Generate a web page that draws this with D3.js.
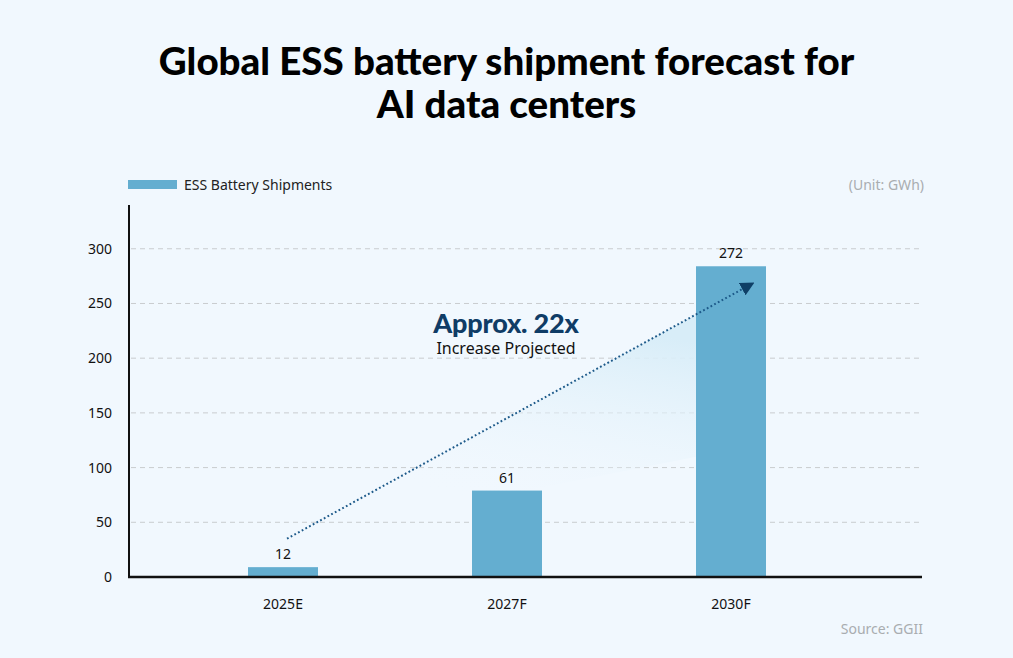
<!DOCTYPE html>
<html>
<head>
<meta charset="utf-8">
<script src="https://cdn.jsdelivr.net/npm/d3@7"></script>
<style>
  html, body { margin: 0; padding: 0; background: #f1f8fe; }
  svg { display: block; font-family: "Noto Sans", "Open Sans", sans-serif; }
</style>
</head>
<body>
<svg id="chart" width="1013" height="658"></svg>
<script>
// data
const categories = ["2025E", "2027F", "2030F"];
const valueLabels = [12, 61, 272];
// bars are drawn taller/shorter than their labels in the original
const barHeights = [9, 79, 284];
const yTicks = [0, 50, 100, 150, 200, 250, 300];
// arrow: [category, value] at start and end
const arrowFrom = ["2025E", 35];
const arrowTo = ["2030F", 268];

const svg = d3.select("#chart"),
  width = +svg.attr("width"),
  height = +svg.attr("height");

const axisLeft = 129, axisRight = 922, baseY = 577;

const y = d3.scaleLinear().domain([0, 340]).range([baseY, 205]);
const x = d3.scaleBand().domain(categories).range([171, 843]).paddingInner(0.6875).paddingOuter(0.34375);

// title
const title = svg.append("text")
  .attr("x", width / 2)
  .attr("text-anchor", "middle")
  .style("font-family", "Lato, Inter, sans-serif")
  .style("font-weight", 900)
  .style("font-size", "38.5px")
  .attr("fill", "#000");
title.append("tspan").attr("x", width / 2).attr("y", 75).text("Global ESS battery shipment forecast for");
title.append("tspan").attr("x", width / 2).attr("y", 118).text("AI data centers");

// legend
svg.append("rect")
  .attr("x", 128).attr("y", 180)
  .attr("width", 49).attr("height", 9)
  .attr("fill", "#64aed0");
svg.append("text")
  .attr("x", 184).attr("y", 190)
  .style("font-size", "14px")
  .attr("fill", "#222")
  .text("ESS Battery Shipments");

svg.append("text")
  .attr("x", 924).attr("y", 190)
  .attr("text-anchor", "end")
  .style("font-size", "14px")
  .attr("fill", "#a9adb0")
  .text("(Unit: GWh)");

// grid
svg.append("g")
  .selectAll("line")
  .data(yTicks.filter((d) => d > 0))
  .enter()
  .append("line")
  .attr("x1", axisLeft + 2).attr("x2", axisRight)
  .attr("y1", (d) => y(d)).attr("y2", (d) => y(d))
  .attr("stroke", "#c9cccf")
  .attr("stroke-width", 1)
  .attr("stroke-dasharray", "5,4");

// y axis
const yAxis = svg.append("g")
  .attr("transform", "translate(" + axisLeft + ",0)")
  .call(d3.axisLeft(y).tickValues(yTicks).tickSize(0).tickPadding(17));
yAxis.select(".domain").remove();
yAxis.selectAll("text")
  .style("font-family", "\"Noto Sans\", sans-serif")
  .style("font-size", "14px")
  .attr("fill", "#111");
svg.append("line")
  .attr("x1", axisLeft).attr("x2", axisLeft)
  .attr("y1", y.range()[1]).attr("y2", baseY + 1)
  .attr("stroke", "#111").attr("stroke-width", 2);

// shaded wedge under the arrow
const defs = svg.append("defs");
const grad = defs.append("linearGradient")
  .attr("id", "wedge")
  .attr("x1", "0.8").attr("y1", "0.05")
  .attr("x2", "0.5").attr("y2", "0.85");
grad.append("stop").attr("offset", "0").attr("stop-color", "#d8edf8").attr("stop-opacity", 1);
grad.append("stop").attr("offset", "1").attr("stop-color", "#f1f8fe").attr("stop-opacity", 0);

const ax0 = x(arrowFrom[0]) + x.bandwidth() / 2 + 4, ay0 = y(arrowFrom[1]);
const ax1 = x(arrowTo[0]) + x.bandwidth() / 2 + 21, ay1 = y(arrowTo[1]);
const barLeft = x(arrowTo[0]);
const tAt = (barLeft - ax0) / (ax1 - ax0);
const yAtBar = ay0 + (ay1 - ay0) * tAt;
svg.append("path")
  .attr("d", d3.line()([[ax0, ay0], [barLeft, yAtBar], [barLeft, y(110)]]) + "Z")
  .attr("fill", "url(#wedge)");

// bars
svg.append("g")
  .selectAll("rect")
  .data(categories)
  .enter()
  .append("rect")
  .attr("x", (d) => x(d))
  .attr("y", (d, i) => y(barHeights[i]))
  .attr("width", x.bandwidth())
  .attr("height", (d, i) => baseY - y(barHeights[i]))
  .attr("fill", "#64aed0");

// value labels
svg.append("g")
  .selectAll("text")
  .data(categories)
  .enter()
  .append("text")
  .attr("x", (d) => x(d) + x.bandwidth() / 2)
  .attr("y", (d, i) => y(barHeights[i]) - 8)
  .attr("text-anchor", "middle")
  .style("font-size", "14px")
  .attr("fill", "#111")
  .text((d, i) => valueLabels[i]);

// x axis
svg.append("line")
  .attr("x1", axisLeft - 1).attr("x2", axisRight)
  .attr("y1", baseY).attr("y2", baseY)
  .attr("stroke", "#111").attr("stroke-width", 2.5);
const xAxis = svg.append("g")
  .attr("transform", "translate(0," + baseY + ")")
  .call(d3.axisBottom(x).tickSize(0).tickPadding(22));
xAxis.select(".domain").remove();
xAxis.selectAll("text")
  .style("font-family", "\"Noto Sans\", sans-serif")
  .style("font-size", "14px")
  .attr("fill", "#111");

// arrow
defs.append("marker")
  .attr("id", "head")
  .attr("viewBox", "0 0 10 10")
  .attr("refX", 8).attr("refY", 5)
  .attr("markerWidth", 14).attr("markerHeight", 14)
  .attr("markerUnits", "userSpaceOnUse")
  .attr("orient", "auto")
  .append("path")
  .attr("d", "M0,0 L10,5 L0,10 Z")
  .attr("fill", "#0f3f66");
svg.append("line")
  .attr("x1", ax0).attr("y1", ay0)
  .attr("x2", ax1).attr("y2", ay1)
  .attr("stroke", "#1d5a8a")
  .attr("stroke-width", 2)
  .attr("stroke-dasharray", "1.8,2.4")
  .attr("marker-end", "url(#head)");

// callout
svg.append("text")
  .attr("x", 506).attr("y", 333)
  .attr("text-anchor", "middle")
  .style("font-family", "Lato, Inter, sans-serif")
  .style("font-weight", 900)
  .style("font-size", "27px")
  .style("letter-spacing", "-0.2px")
  .attr("fill", "#0f3c66")
  .text("Approx. 22x");
svg.append("text")
  .attr("x", 506).attr("y", 354)
  .attr("text-anchor", "middle")
  .style("font-size", "16px")
  .attr("fill", "#111")
  .text("Increase Projected");

// source
svg.append("text")
  .attr("x", 923).attr("y", 634)
  .attr("text-anchor", "end")
  .style("font-size", "14px")
  .attr("fill", "#a9adb0")
  .text("Source: GGII");
</script>
</body>
</html>
